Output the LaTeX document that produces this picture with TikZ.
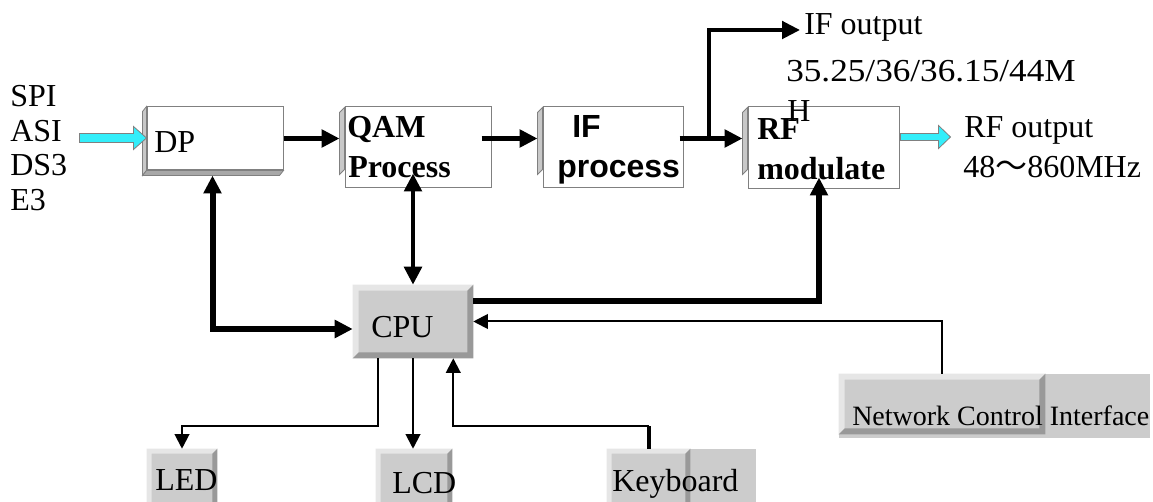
\documentclass[tikz,border=0pt]{standalone}
\usepackage{fontspec}
\setmainfont{Liberation Serif}
\newfontfamily\arialfont{Liberation Sans}
\newfontfamily\cjkfont{Noto Sans CJK SC}
\usetikzlibrary{arrows.meta,calc}
\definecolor{frame}{RGB}{128,128,128}
\definecolor{bevA}{RGB}{200,200,200}
\definecolor{bevB}{RGB}{168,168,168}
\definecolor{btnface}{RGB}{204,204,204}
\definecolor{btnlight}{RGB}{230,230,230}
\definecolor{btndark}{RGB}{153,153,153}
\definecolor{aqua}{RGB}{51,238,250}
\newcommand\bevelbtn[2]{%
 \fill[btnface] (#1.north west) rectangle (#1.south east);
 \fill[btnlight] (#1.north west) -- (#1.north east) -- ($(#1.north east)+(-#2,#2)$) -- ($(#1.north west)+(#2,#2)$) -- ($(#1.south west)+(#2,-#2)$) -- (#1.south west) -- cycle;
 \fill[btndark] (#1.north east) -- (#1.south east) -- (#1.south west) -- ($(#1.south west)+(#2,-#2)$) -- ($(#1.south east)+(-#2,-#2)$) -- ($(#1.north east)+(-#2,#2)$) -- cycle;
}
\newcommand\leftbevel[1]{%
 \filldraw[fill=bevA, draw=frame, line width=0.6pt] ($(#1.north west)+(0,1)$) -- ($(#1.north west)+(-5,6)$) -- ($(#1.north west)+(-5,68)$) -- ($(#1.north west)+(0,63)$) -- cycle;
}
\begin{document}
\begin{tikzpicture}[x=0.75pt,y=-0.75pt,
  box/.style={rectangle, draw=frame, fill=white, line width=0.75pt, inner sep=0pt},
  slot/.style={rectangle, inner sep=0pt, draw=none},
  txt/.style={inner sep=0pt, anchor=base west, font=\fontsize{24}{26}\selectfont},
  btxt/.style={txt, font=\fontsize{24}{26}\selectfont\bfseries},
  atxt/.style={txt, font=\fontsize{24}{26}\selectfont\arialfont\bfseries},
  heavy/.style={line width=3.4pt, -{Triangle[length=13.5pt,width=13pt]}},
  heavyboth/.style={line width=3.6pt, {Triangle[length=13.5pt,width=13pt]}-{Triangle[length=13.5pt,width=13pt]}},
  light/.style={line width=1.5pt, -{Triangle[length=11pt,width=11pt]}},
  blockarrow/.style={fill=aqua, draw=frame, line width=0.6pt}]
\useasboundingbox (0,0) rectangle (1153,502);
\fill[white] (0,0) rectangle (1153,502);

% main chain boxes
\node[box, minimum width=102pt, minimum height=47.25pt] (dp) at (215,138.5) {};
\filldraw[fill=bevA, draw=frame, line width=0.6pt] (dp.north west) -- ($(dp.north west)+(-4,5)$) -- ($(dp.south west)+(-4,5)$) -- (dp.south west) -- cycle;
\filldraw[fill=bevB, draw=frame, line width=0.6pt] (dp.south west) -- ($(dp.south west)+(-4,5)$) -- ($(dp.south east)+(-4,5)$) -- (dp.south east) -- cycle;
\node[box, minimum width=109.5pt, minimum height=60.75pt] (qam) at (418,147.5) {};
\leftbevel{qam}
\node[box, minimum width=105pt, minimum height=60.75pt] (ifp) at (613,147.5) {};
\leftbevel{ifp}
\node[box, minimum width=113.25pt, minimum height=61.5pt] (rf) at (823.5,148) {};
\leftbevel{rf}

% control boxes
\node[slot, minimum width=90pt, minimum height=54.75pt] (cpu) at (413,321.5) {};
\bevelbtn{cpu}{6}
\node[slot, minimum width=52.5pt, minimum height=45.75pt] (led) at (182,479.5) {};
\bevelbtn{led}{5}
\node[slot, minimum width=57pt, minimum height=45.75pt] (lcd) at (414,479.5) {};
\bevelbtn{lcd}{5}
\node[slot, minimum width=111.75pt, minimum height=45.75pt] (kbd) at (681.5,479.5) {};
\fill[btnface] (kbd.north west) rectangle (kbd.south east);
\node[slot, minimum width=62.25pt, minimum height=45.75pt] (kbdbtn) at (648.5,479.5) {};
\bevelbtn{kbdbtn}{5}
\node[slot, minimum width=233.25pt, minimum height=48pt] (net) at (994.5,406) {};
\fill[btnface] (net.north west) rectangle (net.south east);
\node[slot, minimum width=154.5pt, minimum height=45pt] (netbtn) at (942,404) {};
\bevelbtn{netbtn}{6}

% texts
\node[txt] (tspi) at (10,107) {SPI};
\node[txt] (tasi) at (10,142) {ASI};
\node[txt] (tds3) at (10,176) {DS3};
\node[txt] (te3) at (10,211) {E3};
\node[txt] (tdp) at (154,153) {DP};
\node[btxt] (tqam) at (347,138) {QAM};
\node[btxt] (tproc) at (348,178) {Process};
\node[atxt] (tif) at (572,138) {IF};
\node[atxt] (tifproc) at (557,178) {process};
\node[btxt] (trf) at (757,140) {RF};
\node[btxt] (tmod) at (757,180) {modulate};
\node[txt] (th) at (787,122) {H};
\node[txt] (tfreq) at (786,82) {\scalebox{1.1}[1]{35.25/36/36.15/44M}};
\node[txt] (tifout) at (804,35) {IF output};
\node[txt] (trfout) at (964,138) {RF output};
\node[txt] (trfrange) at (963,178) {48{\cjkfont ～}860MHz};
\node[txt] (tcpu) at (371,337) {CPU};
\node[txt] (tled) at (155,490.5) {LED};
\node[txt] (tlcd) at (392,493) {LCD};
\node[txt] (tkbd) at (612,491) {Keyboard};
\node[txt, font=\fontsize{21}{23}\selectfont] (tnet) at (852,425) {Network Control Interface};

% cyan block arrows
\coordinate (inTip) at ($(dp.west)+(0,-0.5)$);
\filldraw[blockarrow] ($(inTip)+(-67,-4.5)$) -- ($(inTip)+(-13,-4.5)$) -- ($(inTip)+(-13,-11.5)$) -- (inTip) -- ($(inTip)+(-13,11.5)$) -- ($(inTip)+(-13,4.5)$) -- ($(inTip)+(-67,4.5)$) -- cycle;
\coordinate (outBase) at ($(rf.east)+(1,-11)$);
\filldraw[blockarrow] ($(outBase)+(0,-3.5)$) -- ($(outBase)+(38,-3.5)$) -- ($(outBase)+(38,-11.5)$) -- ($(outBase)+(50,0)$) -- ($(outBase)+(38,11.5)$) -- ($(outBase)+(38,3.5)$) -- ($(outBase)+(0,3.5)$) -- cycle;

% signal chain
\draw[heavy] (dp.east) -- ($(qam.west |- dp.east)+(-5,0)$);
\draw[heavy] ($(qam.east |- dp.east)+(-10,0)$) -- ($(ifp.west |- dp.east)+(-5,0)$);
\draw[heavy] ($(ifp.east |- dp.east)+(-4,0)$) -- ($(rf.west |- dp.east)+(-5,0)$);
\coordinate (br) at ($(ifp.east |- dp.east)+(25,0)$);
\coordinate (ifo) at (800,30);
\draw[heavy, line width=3pt] (br) |- (ifo);

% CPU links
\coordinate (dpc) at ($(dp.south west)+(66,5)$);
\coordinate (cpuin) at ($(cpu.west)+(0,7.5)$);
\draw[line width=4.5pt, {Triangle[length=13.5pt,width=13pt]}-{Triangle[length=13.5pt,width=13pt]}] (dpc) |- (cpuin);
\coordinate (qamc) at ($(qam.south)+(-5,-15)$);
\draw[heavyboth] (qamc) -- (qamc |- cpu.north);
\coordinate (cpurf) at ($(cpu.east)+(0,-20.5)$);
\coordinate (rfin) at ($(rf.south)+(-4.5,-12)$);
\draw[heavy, line width=3.8pt] (cpurf) -| (rfin);
\draw[light] (netbtn.north) |- (cpu.east);
\coordinate (cpuled) at ($(cpu.south west)+(25,0)$);
\draw[light] (cpuled) -- ++(0,68) -| (led.north);
\draw[light] (cpu.south) -- (cpu.south |- lcd.north);
\coordinate (k1) at ($(kbdbtn.north)+(0,-23)$);
\coordinate (cpukb) at ($(cpu.south east)+(-20,0)$);
\draw[line width=3pt] (kbdbtn.north) -- (k1);
\draw[light] (k1) -| (cpukb);
\end{tikzpicture}
\end{document}
